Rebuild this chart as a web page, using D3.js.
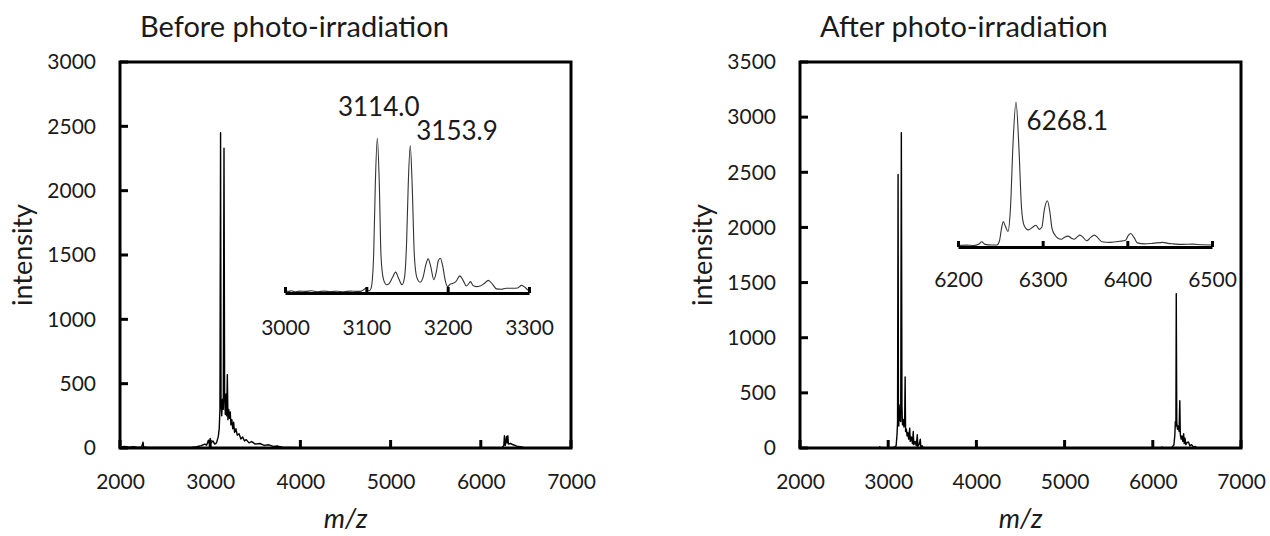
<!DOCTYPE html>
<html>
<head>
<meta charset="utf-8">
<script src="https://cdn.jsdelivr.net/npm/d3@7"></script>
<style>
  body { margin: 0; background: #fff; }
  svg text { font-family: Lato, "Open Sans", sans-serif; fill: #1a1a1a; }
</style>
</head>
<body>
<svg id="chart" width="1270" height="536"></svg>
<script>
// ---- data: [m/z, intensity] ----
const xTicks = [2000, 3000, 4000, 5000, 6000, 7000];
const yTicksBefore = [0, 500, 1000, 1500, 2000, 2500, 3000];
const yTicksAfter = [0, 500, 1000, 1500, 2000, 2500, 3000, 3500];
const insetTicksBefore = [3000, 3100, 3200, 3300];
const insetTicksAfter = [6200, 6300, 6400, 6500];

const spectrumBefore = [
  [2000, 8], [2050, 12], [2100, 6], [2150, 10], [2200, 5], [2240, 9], [2255, 45], [2262, 8],
  [2300, 6], [2400, 5], [2500, 4], [2600, 5], [2700, 4], [2800, 6], [2850, 10], [2900, 18],
  [2940, 30], [2960, 22], [2980, 60], [2990, 35], [3000, 75], [3010, 40], [3030, 55], [3050, 30],
  [3070, 40], [3090, 90], [3100, 150], [3108, 300], [3115, 2450], [3120, 360], [3128, 250],
  [3136, 380], [3145, 300], [3153, 2330], [3160, 380], [3168, 260], [3176, 420], [3183, 250],
  [3190, 570], [3197, 220], [3205, 300], [3215, 230], [3222, 280], [3230, 180], [3240, 220],
  [3250, 150], [3260, 200], [3270, 120], [3285, 150], [3300, 100], [3320, 110], [3340, 70],
  [3360, 85], [3380, 55], [3400, 65], [3430, 40], [3460, 50], [3500, 30], [3550, 35], [3600, 20],
  [3650, 25], [3700, 12], [3750, 15], [3800, 6], [3900, 4], [4000, 3], [4500, 2], [5000, 2],
  [5500, 2], [6000, 3], [6240, 5], [6255, 20], [6262, 95], [6266, 30], [6272, 20], [6285, 90],
  [6292, 40], [6300, 95], [6306, 30], [6330, 35], [6360, 25], [6400, 15], [6450, 8], [6480, 3],
  [6500, 0]
];

const spectrumAfter = [
  [2000, 0], [2900, 0], [2905, 12], [2910, 0], [3000, 0], [3060, 4], [3090, 20], [3100, 120],
  [3106, 230], [3112, 2480], [3116, 300], [3120, 200], [3124, 390], [3130, 250], [3136, 330],
  [3142, 240], [3149, 2860], [3156, 380], [3162, 210], [3170, 260], [3178, 190], [3186, 210],
  [3192, 645], [3197, 150], [3206, 170], [3214, 110], [3222, 140], [3232, 80], [3244, 180],
  [3250, 60], [3262, 100], [3275, 40], [3284, 150], [3290, 30], [3305, 60], [3318, 20],
  [3330, 120], [3336, 15], [3350, 30], [3364, 80], [3370, 10], [3385, 20], [3400, 0],
  [6100, 0], [6104, 10], [6108, 0], [6215, 0], [6225, 15], [6240, 30], [6250, 120], [6256, 240],
  [6262, 200], [6266, 1400], [6272, 230], [6280, 170], [6290, 200], [6298, 150], [6306, 430],
  [6312, 120], [6322, 80], [6330, 110], [6340, 60], [6350, 130], [6356, 40], [6365, 90],
  [6375, 30], [6390, 50], [6404, 55], [6420, 20], [6440, 30], [6460, 10], [6480, 15], [6500, 0],
  [7000, 0]
];

const insetBefore = [
  [3000, 40], [3004, 25], [3008, 35], [3012, 20], [3018, 30], [3025, 25], [3032, 35], [3040, 20],
  [3048, 30], [3056, 22], [3064, 28], [3072, 20], [3080, 30], [3088, 25], [3094, 30], [3097, 55],
  [3100, 75], [3102, 40], [3104, 35], [3106, 80], [3109, 600], [3111, 1700], [3113.5, 2450],
  [3116, 1700], [3118, 600], [3121, 220], [3125, 130], [3128, 150], [3132, 240], [3136, 330],
  [3140, 220], [3144, 130], [3147, 250], [3149.5, 800], [3151.5, 1700], [3154, 2330],
  [3156.5, 1650], [3159, 600], [3162, 250], [3166, 170], [3170, 260], [3173, 440], [3176, 540],
  [3179, 430], [3183, 210], [3186, 330], [3188.5, 510], [3191, 550], [3194, 420], [3197, 200],
  [3200, 100], [3203, 140], [3206, 150], [3210, 180], [3215, 270], [3219, 200], [3223, 110],
  [3226, 150], [3228, 180], [3231, 120], [3235, 100], [3240, 110], [3245, 150], [3250, 200],
  [3255, 140], [3260, 65], [3266, 60], [3272, 75], [3280, 75], [3286, 80], [3291, 120],
  [3295, 90], [3299, 40]
];

const insetAfter = [
  [6200, 15], [6210, 18], [6218, 15], [6225, 30], [6228, 50], [6232, 25], [6240, 20], [6246, 20],
  [6249, 60], [6251, 160], [6253.5, 245], [6256, 200], [6259, 150], [6262, 380], [6265, 1000],
  [6268.5, 1400], [6272, 950], [6275, 380], [6278, 210], [6283, 165], [6288, 190], [6292, 210],
  [6296, 170], [6299, 190], [6302, 360], [6305.5, 447], [6308.5, 340], [6311, 180],
  [6314.5, 115], [6318, 85], [6322, 75], [6326, 95], [6330, 105], [6334, 85], [6337, 75],
  [6341, 100], [6344, 115], [6348, 90], [6352, 60], [6357, 95], [6361, 115], [6365, 90],
  [6370, 50], [6380, 45], [6391, 55], [6398, 65], [6401, 110], [6404, 130], [6408, 90],
  [6412, 40], [6420, 30], [6430, 35], [6442, 45], [6448, 35], [6454, 30], [6465, 25],
  [6477, 28], [6488, 22], [6500, 20]
];

const peaksBefore = [
  { label: '3114.0', mz: 3114, anchor: 'middle', dx: 1, y: 116 },
  { label: '3153.9', mz: 3154, anchor: 'start', dx: 6, y: 140 }
];
const peaksAfter = [
  { label: '6268.1', mz: 6268, anchor: 'start', dx: 11, y: 130 }
];

// ---- layout ----
const panels = [
  {
    title: 'Before photo-irradiation', titleX: 140,
    left: 120, right: 571, top: 62, bottom: 448, yMax: 3000, yTicks: yTicksBefore,
    ylabelX: 23, spectrum: spectrumBefore,
    inset: { x0: 285, x1: 529, axisY: 293, peakY: 138, peakVal: 2450, domain: [3000, 3300],
             ticks: insetTicksBefore, data: insetBefore, pad: 27, peaks: peaksBefore }
  },
  {
    title: 'After photo-irradiation', titleX: 820,
    left: 800, right: 1241, top: 62, bottom: 448, yMax: 3500, yTicks: yTicksAfter,
    ylabelX: 703, spectrum: spectrumAfter,
    inset: { x0: 958, x1: 1212, axisY: 247, peakY: 102, peakVal: 1400, domain: [6200, 6500],
             ticks: insetTicksAfter, data: insetAfter, pad: 25, peaks: peaksAfter }
  }
];

const svg = d3.select('#chart');
const fmt = d3.format('d');
const tickLen = 8;

panels.forEach((p, i) => {
  const g = svg.append('g');

  const x = d3.scaleLinear().domain([2000, 7000]).range([p.left, p.right]);
  const y = d3.scaleLinear().domain([0, p.yMax]).range([p.bottom, p.top]);

  g.append('clipPath').attr('id', 'clip' + i)
    .append('rect')
    .attr('x', p.left).attr('y', p.top)
    .attr('width', p.right - p.left).attr('height', p.bottom - p.top);

  g.append('path')
    .datum(p.spectrum)
    .attr('clip-path', 'url(#clip' + i + ')')
    .attr('fill', 'none')
    .attr('stroke', '#000')
    .attr('stroke-width', 1.4)
    .attr('stroke-linejoin', 'round')
    .attr('d', d3.line().x(d => x(d[0])).y(d => y(d[1])));

  // labels only from the axis generators
  const xAxis = g.append('g')
    .attr('transform', `translate(0,${p.bottom})`)
    .call(d3.axisBottom(x).tickValues(xTicks).tickFormat(fmt).tickSize(0).tickPadding(26));
  const yAxis = g.append('g')
    .attr('transform', `translate(${p.left},0)`)
    .call(d3.axisLeft(y).tickValues(p.yTicks).tickFormat(fmt).tickSize(0).tickPadding(24));

  [xAxis, yAxis].forEach(a => {
    a.select('.domain').remove();
    a.selectAll('.tick line').remove();
    a.selectAll('text').style('font-size', '21px').attr('fill', '#1a1a1a');
  });

  // inward tick marks
  g.append('g').selectAll('line')
    .data(xTicks)
    .join('line')
    .attr('x1', d => x(d)).attr('x2', d => x(d))
    .attr('y1', p.bottom).attr('y2', p.bottom - tickLen)
    .attr('stroke', '#000').attr('stroke-width', 3);
  g.append('g').selectAll('line')
    .data(p.yTicks)
    .join('line')
    .attr('x1', p.left).attr('x2', p.left + tickLen)
    .attr('y1', d => y(d)).attr('y2', d => y(d))
    .attr('stroke', '#000').attr('stroke-width', 3);

  g.append('rect')
    .attr('x', p.left).attr('y', p.top)
    .attr('width', p.right - p.left).attr('height', p.bottom - p.top)
    .attr('fill', 'none').attr('stroke', '#000').attr('stroke-width', 3);

  g.append('text')
    .attr('x', p.titleX).attr('y', 37)
    .style('font-size', '29px')
    .text(p.title);

  g.append('text')
    .attr('transform', `translate(${p.ylabelX},${(p.top + p.bottom) / 2}) rotate(-90)`)
    .attr('text-anchor', 'middle')
    .attr('dy', '0.35em')
    .style('font-size', '27px')
    .text('intensity');

  g.append('text')
    .attr('x', (p.left + p.right) / 2).attr('y', 528)
    .attr('text-anchor', 'middle')
    .style('font-size', '27px')
    .style('font-style', 'italic')
    .text('m/z');

  // inset
  const s = p.inset;
  const xi = d3.scaleLinear().domain(s.domain).range([s.x0, s.x1]);
  const yi = d3.scaleLinear().domain([0, s.peakVal]).range([s.axisY, s.peakY]);

  g.append('path')
    .datum(s.data)
    .attr('fill', 'none')
    .attr('stroke', '#333')
    .attr('stroke-width', 1.1)
    .attr('d', d3.line().curve(d3.curveMonotoneX).x(d => xi(d[0])).y(d => yi(d[1])));

  const ia = g.append('g')
    .attr('transform', `translate(0,${s.axisY})`)
    .call(d3.axisBottom(xi).tickValues(s.ticks).tickFormat(fmt)
      .tickSizeInner(-6).tickSizeOuter(0).tickPadding(s.pad));
  ia.select('.domain').attr('stroke', '#000').attr('stroke-width', 3);
  ia.selectAll('.tick line').attr('stroke', '#000').attr('stroke-width', 3);
  ia.selectAll('text').style('font-size', '21px').attr('fill', '#1a1a1a');

  s.peaks.forEach(pk => {
    g.append('text')
      .attr('x', xi(pk.mz) + pk.dx).attr('y', pk.y)
      .attr('text-anchor', pk.anchor)
      .style('font-size', '26px')
      .text(pk.label);
  });
});
</script>
</body>
</html>
